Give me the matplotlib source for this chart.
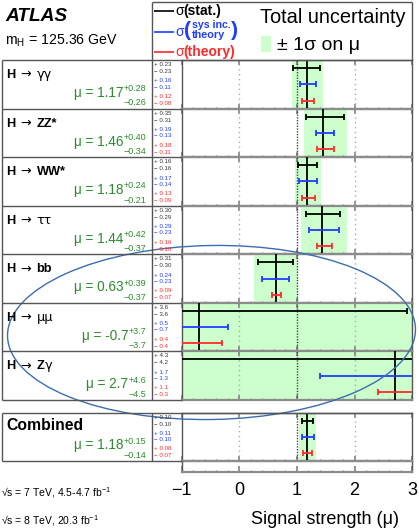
import matplotlib
matplotlib.use('Agg')
import matplotlib.pyplot as plt
from matplotlib.patches import Ellipse, Rectangle
from matplotlib.ticker import MultipleLocator

plt.rcParams['font.family'] = ['Liberation Sans', 'DejaVu Sans']
plt.rcParams['mathtext.fontset'] = 'custom'
plt.rcParams['mathtext.rm'] = 'Liberation Sans'
plt.rcParams['mathtext.it'] = 'Liberation Sans:italic'
plt.rcParams['mathtext.bf'] = 'Liberation Sans:bold'

# ---------------- data ----------------
channels = ['γγ', 'ZZ*', 'WW*', 'ττ', 'bb', 'μμ', 'Zγ', 'Combined']
mu = [1.17, 1.46, 1.18, 1.44, 0.63, -0.7, 2.7, 1.18]
mu_text = ['1.17', '1.46', '1.18', '1.44', '0.63', '-0.7', '2.7', '1.18']
decimals = [2, 2, 2, 2, 2, 1, 1, 2]
tot_hi = [0.28, 0.40, 0.24, 0.42, 0.39, 3.7, 4.6, 0.15]
tot_lo = [0.26, 0.34, 0.21, 0.37, 0.37, 3.7, 4.5, 0.14]
stat_hi = [0.23, 0.35, 0.16, 0.30, 0.31, 3.6, 4.3, 0.10]
stat_lo = [0.23, 0.31, 0.16, 0.29, 0.30, 3.6, 4.2, 0.10]
sys_hi = [0.16, 0.19, 0.17, 0.29, 0.24, 0.5, 1.7, 0.11]
sys_lo = [0.11, 0.13, 0.14, 0.23, 0.23, 0.7, 1.3, 0.10]
th_hi = [0.12, 0.18, 0.13, 0.16, 0.09, 0.4, 1.1, 0.08]
th_lo = [0.08, 0.11, 0.09, 0.10, 0.07, 0.4, 0.3, 0.07]
bold_rest = [False, True, True, False, True, False, None, None]
xticks = [-1, 0, 1, 2, 3]

# ---------------- layout ----------------
W, H = 419, 532
fig = plt.figure(figsize=(W / 100, H / 100), dpi=100)
L, R = 181.5, 412.3
row_top0, row_bot = 60.0, 400.0
nrows = 7
rh = (row_bot - row_top0) / nrows
comb_top, comb_bot, axis_y = 412.7, 460.7, 472.0

GREEN_BAND = '#ccffcc'
BLUE = '#1f3dff'
RED = '#ff2a2a'
TXT_GREEN = '#2e8b2e'
FRAME = '#555555'
ROWLINE = '#8c8c8c'
GREEK = ['DejaVu Sans', 'Liberation Sans']


def add_ax(top, bottom):
    ax = fig.add_axes([L / W, 1 - bottom / H, (R - L) / W, (bottom - top) / H])
    ax.set_xlim(-1, 3)
    ax.set_ylim(1, 0)
    ax.set_facecolor('none')
    ax.xaxis.set_major_locator(MultipleLocator(1))
    ax.xaxis.set_minor_locator(MultipleLocator(0.2))
    ax.set_yticks([])
    ax.tick_params(axis='x', which='both', direction='in', bottom=True,
                   top=False, labelbottom=False, colors='#777777')
    ax.tick_params(axis='x', which='major', length=3.5, width=1.1, top=True)
    ax.tick_params(axis='x', which='minor', length=1.8, width=0.9)
    for s in ['left', 'right']:
        ax.spines[s].set_color(FRAME)
        ax.spines[s].set_linewidth(1.0)
    for s in ['top', 'bottom']:
        ax.spines[s].set_color(ROWLINE)
        ax.spines[s].set_linewidth(1.6)
    return ax


def draw_row(ax, i):
    m = mu[i]
    ax.axvspan(m - tot_lo[i], m + tot_hi[i], color=GREEN_BAND, lw=0, zorder=1)
    for xv in [0, 2]:
        ax.axvline(xv, color='#aaaaaa', lw=1.0, ls=(0, (1, 2.5)), zorder=2)
    ax.axvline(1, color='#444444', lw=1.0, ls=(0, (1, 1)), zorder=2)
    ax.axvline(m, color='k', lw=1.3, zorder=3)
    for y, lo, hi, c in [(0.165, stat_lo[i], stat_hi[i], 'k'),
                         (0.5, sys_lo[i], sys_hi[i], BLUE),
                         (0.835, th_lo[i], th_hi[i], RED)]:
        ax.errorbar([m], [y], xerr=[[lo], [hi]], fmt='none', ecolor=c,
                    elinewidth=1.3, capsize=2, capthick=1.3, zorder=4)


row_tops = [row_top0 + k * rh for k in range(nrows)]
for k in range(nrows):
    ax = add_ax(row_tops[k], row_tops[k] + rh)
    if k == 0:
        ax.spines['top'].set_color(FRAME)
        ax.spines['top'].set_linewidth(1.0)
    draw_row(ax, k)

axc = add_ax(comb_top, comb_bot)
axc.spines['top'].set_color(FRAME)
axc.spines['top'].set_linewidth(1.0)
draw_row(axc, 7)

axs = add_ax(comb_bot, axis_y)
axs.set_xticks(xticks)
axs.tick_params(axis='x', which='major', top=False, length=4.5, labelbottom=True,
                labelsize=13, labelcolor='k', pad=7.5)
axs.tick_params(axis='x', which='minor', top=False)

# ---------------- overlay (table, legend, texts) ----------------
ov = fig.add_axes([0, 0, 1, 1], zorder=10)
ov.set_xlim(0, W)
ov.set_ylim(H, 0)
ov.axis('off')
renderer = fig.canvas.get_renderer()


def line(x0, x1, y0, y1, c=FRAME, lw=1.0):
    ov.plot([x0, x1], [y0, y1], color=c, lw=lw, solid_capstyle='butt')


def seq(x, y, parts, **kw):
    for s, props in parts:
        p = dict(kw)
        p.update(props)
        t = ov.text(x, y, s, va='baseline', ha='left', **p)
        x = t.get_window_extent(renderer).x1
    return x


# table frames
line(2, L, 60, 60)
line(2, 2, 60, row_bot)
line(152, 152, 2, row_bot)
for k in range(1, nrows):
    line(2, L, row_tops[k], row_tops[k])
line(2, L, row_bot, row_bot)
line(2, R, comb_top, comb_top)
line(2, L, comb_bot, comb_bot)
line(2, 2, comb_top, comb_bot)
line(152, 152, comb_top, comb_bot)
# legend box
line(152, R, 2, 2)
line(R, R, 2, 60)
line(L, R, 60, 60)

num_fr = [0.124, 0.268, 0.463, 0.587, 0.782, 0.926]
LFS = 9.2


def row_texts(i, top, h):
    yb = top + 0.37 * h
    if i < 7:
        ov.text(6, yb, 'H', fontsize=LFS, fontweight='bold', va='baseline')
        ov.text(20.5, yb, '→', fontsize=LFS, va='baseline', family=GREEK)
        name = channels[i]
        if name == 'Zγ':
            seq(36.5, yb, [('Z', dict(fontweight='bold')),
                           ('γ', dict(family=GREEK))], fontsize=LFS)
        elif bold_rest[i]:
            seq(36.5, yb, [(name, dict(fontweight='bold'))], fontsize=LFS)
        else:
            seq(36.5, yb, [(name, dict(family=GREEK))], fontsize=LFS)
    else:
        ov.text(6, yb, 'Combined', fontsize=11.3, fontweight='bold', va='baseline')
    d = decimals[i]
    sup = ov.text(146.5, top + 0.645 * h, f'+{tot_hi[i]:.{d}f}', fontsize=6.5,
                  color=TXT_GREEN, ha='right', va='baseline')
    ov.text(146.5, top + 0.935 * h, f'−{tot_lo[i]:.{d}f}', fontsize=6.5,
            color=TXT_GREEN, ha='right', va='baseline')
    wsup = sup.get_window_extent(renderer).width
    ov.text(146.5 - wsup - 0.5, top + 0.762 * h, f'μ = {mu_text[i]}', fontsize=9.8,
            color=TXT_GREEN, ha='right', va='baseline')
    vals = [(f'+ {stat_hi[i]:.{d}f}', '#333333'), (f'− {stat_lo[i]:.{d}f}', '#333333'),
            (f'+ {sys_hi[i]:.{d}f}', BLUE), (f'− {sys_lo[i]:.{d}f}', BLUE),
            (f'+ {th_hi[i]:.{d}f}', RED), (f'− {th_lo[i]:.{d}f}', RED)]
    for (s, c), fr in zip(vals, num_fr):
        ov.text(154, top + fr * h, s, fontsize=4.4, color=c, va='baseline')


for k in range(nrows):
    row_texts(k, row_tops[k], rh)
row_texts(7, comb_top, comb_bot - comb_top)

# header texts
ov.text(5, 21, 'ATLAS', fontsize=13.8, fontweight='bold', fontstyle='italic', va='baseline')
ov.text(5, 45, r'm$_{\rm H}$ = 125.36 GeV', fontsize=10.2, va='baseline')

# legend
line(154, 174, 11, 11, c='k', lw=1.2)
seq(175, 15, [('σ', {}), ('(stat.)', dict(fontweight='bold'))], fontsize=10, color='k')
line(154, 174, 31.7, 31.7, c=BLUE, lw=1.2)
xp = seq(175, 36, [('σ', {}), ('(', dict(fontweight='bold', fontsize=15))],
         fontsize=10, color=BLUE)
x1 = seq(xp + 1, 28, [('sys inc.', dict(fontweight='bold'))], fontsize=7.6, color=BLUE)
x2 = seq(xp + 1, 37.5, [('theory', dict(fontweight='bold'))], fontsize=7.8, color=BLUE)
seq(max(x1, x2) + 0.5, 36, [(')', dict(fontweight='bold'))], fontsize=15, color=BLUE)
line(154, 174, 51.7, 51.7, c=RED, lw=1.2)
seq(175, 56, [('σ', {}), ('(theory)', dict(fontweight='bold'))], fontsize=10, color=RED)

ov.text(260, 23.3, 'Total uncertainty', fontsize=14.4, va='baseline')
ov.add_patch(Rectangle((261, 36), 10, 16, facecolor=GREEN_BAND, edgecolor='none'))
ov.text(276.7, 50, '± 1σ on μ', fontsize=14, va='baseline')

# bottom texts
ov.text(1, 497, '√s = 7 TeV, 4.5-4.7 fb$^{-1}$', fontsize=7.5, va='baseline')
ov.text(1, 524, '√s = 8 TeV, 20.3 fb$^{-1}$', fontsize=7.5, va='baseline')
ov.text(324.5, 520, 'Signal strength (μ)', fontsize=13, ha='center', va='center')

# annotation ellipse
ov.add_patch(Ellipse((211.5, 332.5), 408, 174, angle=-1.0, fill=False,
                     edgecolor='#3b6db0', lw=1.0))

fig.savefig('out.png', dpi=100)
